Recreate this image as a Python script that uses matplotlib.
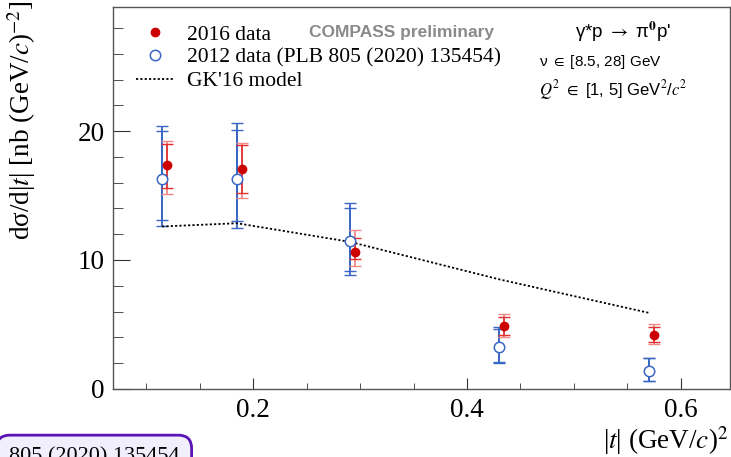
import numpy as np
import matplotlib
matplotlib.use("Agg")
import matplotlib.pyplot as plt

plt.rcParams["font.family"] = ["Liberation Serif", "DejaVu Serif"]
plt.rcParams["mathtext.fontset"] = "stix"

# 2016 data (COMPASS preliminary)
t16 = [0.120, 0.190, 0.295, 0.435, 0.575]
xs16 = [17.35, 17.08, 10.60, 4.86, 4.22]
stat16_lo = [1.80, 1.92, 0.55, 0.66, 0.62]
stat16_hi = [1.65, 1.82, 1.12, 0.70, 0.62]
tot16_lo = [2.27, 2.25, 1.10, 0.86, 0.76]
tot16_hi = [1.90, 1.97, 1.69, 0.94, 0.78]

# 2012 data (PLB 805 (2020) 135454)
t12 = [0.115, 0.185, 0.291, 0.430, 0.570]
xs12 = [16.30, 16.30, 11.51, 3.28, 1.42]
stat12_lo = [3.16, 3.30, 2.33, 1.20, 0.80]
stat12_hi = [3.70, 3.80, 2.51, 1.35, 0.95]
tot12_lo = [3.70, 3.80, 2.71, 1.26, 0.83]
tot12_hi = [4.07, 4.35, 2.93, 1.50, 1.01]

# GK'16 model
gk_t = [0.115, 0.185, 0.291, 0.430, 0.570]
gk_xs = [12.60, 12.85, 11.40, 8.50, 5.90]

RED = "#cc0000"
RED_ERR = "#e03030"
RED_SYS = "#f08888"
BLUE = "#3a66c4"

fig = plt.figure(figsize=(7.31, 4.57), dpi=100)
ax = fig.add_axes([0.155, 0.149, 0.8436, 0.835])

# error bars: total (outer caps) and statistical (inner caps)
ax.errorbar(t12, xs12, yerr=[tot12_lo, tot12_hi], fmt="none", ecolor=BLUE,
            elinewidth=1.3, capsize=4, capthick=1.0)
ax.errorbar(t12, xs12, yerr=[stat12_lo, stat12_hi], fmt="none", ecolor=BLUE,
            elinewidth=1.3, capsize=4, capthick=1.0)
ax.errorbar(t16, xs16, yerr=[tot16_lo, tot16_hi], fmt="none", ecolor=RED_SYS,
            elinewidth=1.3, capsize=4, capthick=1.0)
ax.errorbar(t16, xs16, yerr=[stat16_lo, stat16_hi], fmt="none", ecolor=RED_ERR,
            elinewidth=1.2, capsize=4, capthick=1.0)

ax.plot(gk_t, gk_xs, linestyle=(0, (1.2, 1.2)), color="black", linewidth=1.3,
        label="GK'16 model", zorder=3)
ax.plot(t16, xs16, "o", color=RED, markersize=6, label="2016 data", zorder=5)
ax.plot(t12, xs12, "o", markerfacecolor="white", markeredgecolor=BLUE,
        markeredgewidth=1.1, markersize=7.5,
        label="2012 data (PLB 805 (2020) 135454)", zorder=4)

ax.set_xlim(0.0694, 0.6458)
ax.set_ylim(0, 29.6)
ax.set_xticks([0.2, 0.4, 0.6])
ax.set_xticklabels(["0.2", "0.4", "0.6"])
ax.set_xticks(np.arange(0.10, 0.64, 0.05), minor=True)
ax.set_yticks([0, 10, 20])
ax.set_yticks(np.arange(0, 29, 2), minor=True)

ax.tick_params(axis="both", which="both", direction="in", labelsize=19.5,
               color="#333333")
ax.tick_params(axis="x", which="major", length=8, pad=6.5)
ax.tick_params(axis="x", which="minor", length=4.5)
ax.tick_params(axis="y", which="major", length=12, pad=6)
ax.tick_params(axis="y", which="minor", length=7)
for s in ax.spines.values():
    s.set_color("#555555")
    s.set_linewidth(1.0)

handles, labels = ax.get_legend_handles_labels()
order = [1, 2, 0]
ax.legend([handles[i] for i in order], [labels[i] for i in order],
          loc="upper left", bbox_to_anchor=(0.036, 0.955), frameon=False,
          fontsize=15.5, handlelength=1.85, handletextpad=0.55,
          labelspacing=0.15, borderpad=0, borderaxespad=0)

ax.text(0.318, 0.935, "COMPASS preliminary", transform=ax.transAxes,
        family="Liberation Sans", fontweight="bold", fontsize=12.5,
        color="#8a8a8a", va="center", ha="left")
ax.text(0.826, 0.935, r"γ*p $\rightarrow$ π$^{\mathbf{0}}$p'",
        transform=ax.transAxes, family="Liberation Sans", fontsize=13.5,
        va="center", ha="center")
ax.text(0.690, 0.857, r"ν $\in$ [8.5, 28] GeV", transform=ax.transAxes,
        family="Liberation Sans", fontsize=11, va="center", ha="left")
ax.text(0.690, 0.784, r"$Q^{2}$ $\in$ [1, 5] GeV$^{2}$/$c^{2}$",
        transform=ax.transAxes, family="Liberation Sans", fontsize=12,
        va="center", ha="left")

fig.text(0.030, 0.998, r"dσ/d|$t$| [nb (GeV/$c$)$^{-2}$]", rotation=90,
         fontsize=19.5, ha="center", va="top")
fig.text(0.997, 0.036, r"|$t$| (GeV/$c$)$^{2}$", fontsize=19.5,
         ha="right", va="center")

# cropped tooltip box in the lower left corner of the screenshot
fig.text(0.012, 0.0, "805 (2020) 135454", fontsize=16, ha="left",
         va="center",
         bbox=dict(boxstyle="round,pad=0.55,rounding_size=0.6",
                   facecolor="#f1effc", edgecolor="#5a14b8", linewidth=2))

fig.savefig("out.png", dpi=100)
